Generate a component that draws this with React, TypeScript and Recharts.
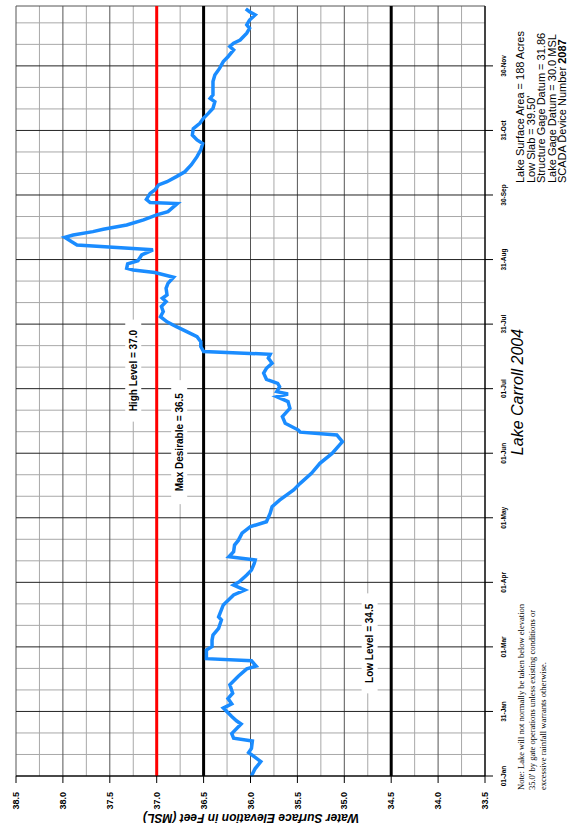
import React from "react";
import {
  CartesianGrid,
  Line,
  LineChart,
  ReferenceDot,
  ReferenceLine,
  XAxis,
  YAxis,
} from "recharts";

// Day of year (0 = 01-Jan) and lake elevation in feet MSL.
const days = [
  0, 3.5, 6.8, 8.8, 11, 13, 16.5, 17.8, 20, 24.5, 26, 28, 32, 34, 36.5, 39, 43, 47,
  50.5, 51.8, 54.3, 55.3, 59.4, 61, 64, 66.4, 69.6, 73.5, 75, 80.6, 85.3, 87.6, 90,
  91.5, 94.7, 97, 100.2, 101.8, 103.3, 105.7, 108.8, 111, 114.4, 117.5, 119.8, 123.8,
  126.9, 130, 134.8, 137.9, 142.6, 147.3, 152, 156, 157.5, 160.7, 162, 163, 166.2,
  169.3, 173.2, 176.4, 178.7, 180, 181.1, 183.4, 185, 186.9, 189.8, 192.1, 194.5,
  196.9, 198.7, 200, 202.3, 204.6, 207, 209.4, 211.7, 214, 216.4, 218.8, 221.2, 223.5,
  225.1, 226.7, 229.8, 232.1, 235, 237.2, 238.4, 239.2, 241.3, 242.8, 245.5, 247.9,
  250.2, 251.8, 253.8, 254.9, 256.5, 257.6, 259.6, 262, 264.4, 265.9, 269.7, 270.2,
  271.7, 274.5, 276.1, 278.5, 280, 282.4, 284.7, 288, 291.8, 295, 298, 299.7, 302, 305,
  307.5, 310, 312.2, 314.6, 317.7, 319.3, 320.9, 324, 327.2, 330.3, 333.4, 336.6,
  338.9, 342.1, 343.7, 345.3, 346.8, 350, 352.3, 353.9, 356.2, 358.6, 360.1, 361.5,
];
const levels = [
  35.99, 35.95, 35.89, 35.95, 36.02, 35.99, 35.98, 36.18, 36.2, 36.1, 36.15, 36.2,
  36.29, 36.2, 36.24, 36.19, 36.22, 36.13, 36.04, 35.94, 35.99, 36.47, 36.47, 36.41,
  36.41, 36.4, 36.34, 36.31, 36.34, 36.29, 36.18, 36.06, 36.18, 36.12, 36.04, 35.99,
  35.96, 35.95, 36.23, 36.18, 36.17, 36.13, 36.09, 36.0, 35.83, 35.79, 35.77, 35.69,
  35.54, 35.47, 35.35, 35.26, 35.13, 35.05, 35.02, 35.08, 35.47, 35.49, 35.63, 35.66,
  35.58, 35.6, 35.72, 35.6, 35.72, 35.69, 35.71, 35.83, 35.86, 35.83, 35.77, 35.81,
  35.79, 36.5, 36.53, 36.53, 36.57, 36.68, 36.79, 36.89, 36.96, 36.93, 36.95, 36.9,
  36.94, 36.89, 36.9, 36.88, 36.82, 37.02, 37.25, 37.32, 37.31, 37.2, 37.16, 37.04,
  37.85, 37.91, 37.98, 37.89, 37.68, 37.57, 37.32, 37.14, 37.0, 36.88, 36.78, 37.07,
  37.11, 37.07, 37.02, 36.98, 36.89, 36.79, 36.7, 36.63, 36.57, 36.53, 36.51, 36.57,
  36.62, 36.61, 36.54, 36.5, 36.45, 36.4, 36.38, 36.43, 36.4, 36.4, 36.4, 36.38,
  36.33, 36.29, 36.24, 36.18, 36.22, 36.18, 36.11, 36.04, 36.01, 36.04, 36.01, 35.95,
  36.01, 36.05,
];

const monthLabels = [
  "01-Jan", "31-Jan", "01-Mar", "01-Apr", "01-May", "01-Jun",
  "01-Jul", "31-Jul", "31-Aug", "30-Sep", "31-Oct", "30-Nov",
];
const elevationTicks = [33.5, 34, 34.5, 35, 35.5, 36, 36.5, 37, 37.5, 38, 38.5];
const elevationMinor = [33.75, 34.25, 34.75, 35.25, 35.75, 36.25, 36.75, 37.25, 37.75, 38.25];

const HIGH_LEVEL = 37.0;
const MAX_DESIRABLE = 36.5;
const LOW_LEVEL = 34.5;

const X_MAX = 362.8;
const monthTicks = monthLabels.map((_, i) => (i * 365) / 12);
const minorDays = Array.from({ length: 35 }, (_, i) => ((i + 1) * 365) / 36).filter(
  (_, i) => (i + 1) % 3 !== 0,
);

const data = days.map((day, i) => ({ day, level: levels[i] }));

const SANS = "'Liberation Sans', Arial, sans-serif";
const SERIF = "'Liberation Serif', 'Times New Roman', serif";

function levelTag(text: string, boxW: number) {
  return (props: any) => {
    const { cx, cy } = props;
    return (
      <g>
        <rect x={cx - boxW / 2} y={cy - 8} width={boxW} height={16} fill="#fff" />
        <text
          x={cx}
          y={cy}
          textAnchor="middle"
          dominantBaseline="central"
          fontSize={10}
          fontWeight="bold"
          fontFamily={SANS}
          fill="#000"
        >
          {text}
        </text>
      </g>
    );
  };
}

function LakeChart() {
  return (
    <LineChart
      width={836}
      height={573}
      data={data}
      margin={{ top: 16, right: 6, bottom: 0, left: 0 }}
    >
      <CartesianGrid
        stroke="#a8a8a8"
        horizontalValues={elevationMinor}
        verticalValues={minorDays}
      />
      <CartesianGrid stroke="#555" vertical={false} horizontalValues={elevationTicks} />
      <CartesianGrid stroke="#222" horizontal={false} verticalValues={monthTicks} />
      <XAxis
        dataKey="day"
        type="number"
        domain={[0, X_MAX]}
        ticks={monthTicks}
        interval={0}
        tickFormatter={(v: number) => monthLabels[monthTicks.indexOf(v)] ?? ""}
        tick={{ fontSize: 6.5, fontWeight: "bold", fill: "#000", fontFamily: SANS }}
        tickLine={{ stroke: "#000" }}
        axisLine={{ stroke: "#000", strokeWidth: 1.2 }}
        tickSize={8}
        tickMargin={8}
        height={88}
      />
      <YAxis
        type="number"
        domain={[33.5, 38.5]}
        ticks={elevationTicks}
        interval={0}
        tickFormatter={(v: number) => v.toFixed(1)}
        tick={{ fontSize: 9, fontWeight: "bold", fill: "#000", fontFamily: SANS }}
        tickLine={{ stroke: "#000" }}
        axisLine={{ stroke: "#000", strokeWidth: 1.2 }}
        tickSize={7}
        tickMargin={9}
        width={60}
      />
      <ReferenceLine x={X_MAX} stroke="#555" />
      <ReferenceLine y={HIGH_LEVEL} stroke="#ff0000" strokeWidth={3} />
      <ReferenceLine y={MAX_DESIRABLE} stroke="#000" strokeWidth={3} />
      <ReferenceLine y={LOW_LEVEL} stroke="#000" strokeWidth={3} />
      <Line
        dataKey="level"
        type="linear"
        stroke="#1a8cff"
        strokeWidth={3.5}
        dot={false}
        isAnimationActive={false}
      />
      <ReferenceDot x={191} y={37.25} r={0} shape={levelTag("High Level = 37.0", 102)} />
      <ReferenceDot x={157.3} y={36.76} r={0} shape={levelTag("Max Desirable = 36.5", 124)} />
      <ReferenceDot x={62.5} y={34.73} r={0} shape={levelTag("Low Level = 34.5", 100)} />
    </LineChart>
  );
}

export default function App() {
  return (
    <div
      style={{
        position: "absolute",
        left: 0,
        top: 0,
        width: 836,
        height: 573,
        transformOrigin: "0 0",
        transform: "translate(0px, 836px) rotate(-90deg)",
        background: "#fff",
        fontFamily: SANS,
      }}
    >
      <LakeChart />
      <div
        style={{
          position: "absolute",
          left: 18,
          top: 250.5,
          transform: "translate(-50%, -50%) rotate(-90deg)",
          whiteSpace: "nowrap",
          fontSize: 12,
          fontWeight: "bold",
          fontStyle: "italic",
        }}
      >
        Water Surface Elevation in Feet (MSL)
      </div>
      <div
        style={{
          position: "absolute",
          left: 344,
          top: 510,
          width: 200,
          textAlign: "center",
          fontSize: 16,
          lineHeight: "16px",
          fontStyle: "italic",
          whiteSpace: "nowrap",
        }}
      >
        Lake Carroll 2004
      </div>
      <div
        style={{
          position: "absolute",
          left: 46,
          top: 516.4,
          fontFamily: SERIF,
          fontSize: 8.5,
          lineHeight: "11px",
          whiteSpace: "nowrap",
        }}
      >
        Note: Lake will not normally be taken below elevation
        <br />
        35.0' by gate operations unless existing conditions or
        <br />
        excessive rainfall warrants otherwise.
      </div>
      <div
        style={{
          position: "absolute",
          left: 653,
          top: 515,
          fontSize: 11,
          lineHeight: "10.5px",
          whiteSpace: "nowrap",
        }}
      >
        Lake Surface Area = 188 Acres
        <br />
        Low Slab = 39.50'
        <br />
        Structure Gage Datum = 31.86
        <br />
        Lake Gage Datum = 30.0 MSL
        <br />
        SCADA Device Number <b>2087</b>
      </div>
    </div>
  );
}
